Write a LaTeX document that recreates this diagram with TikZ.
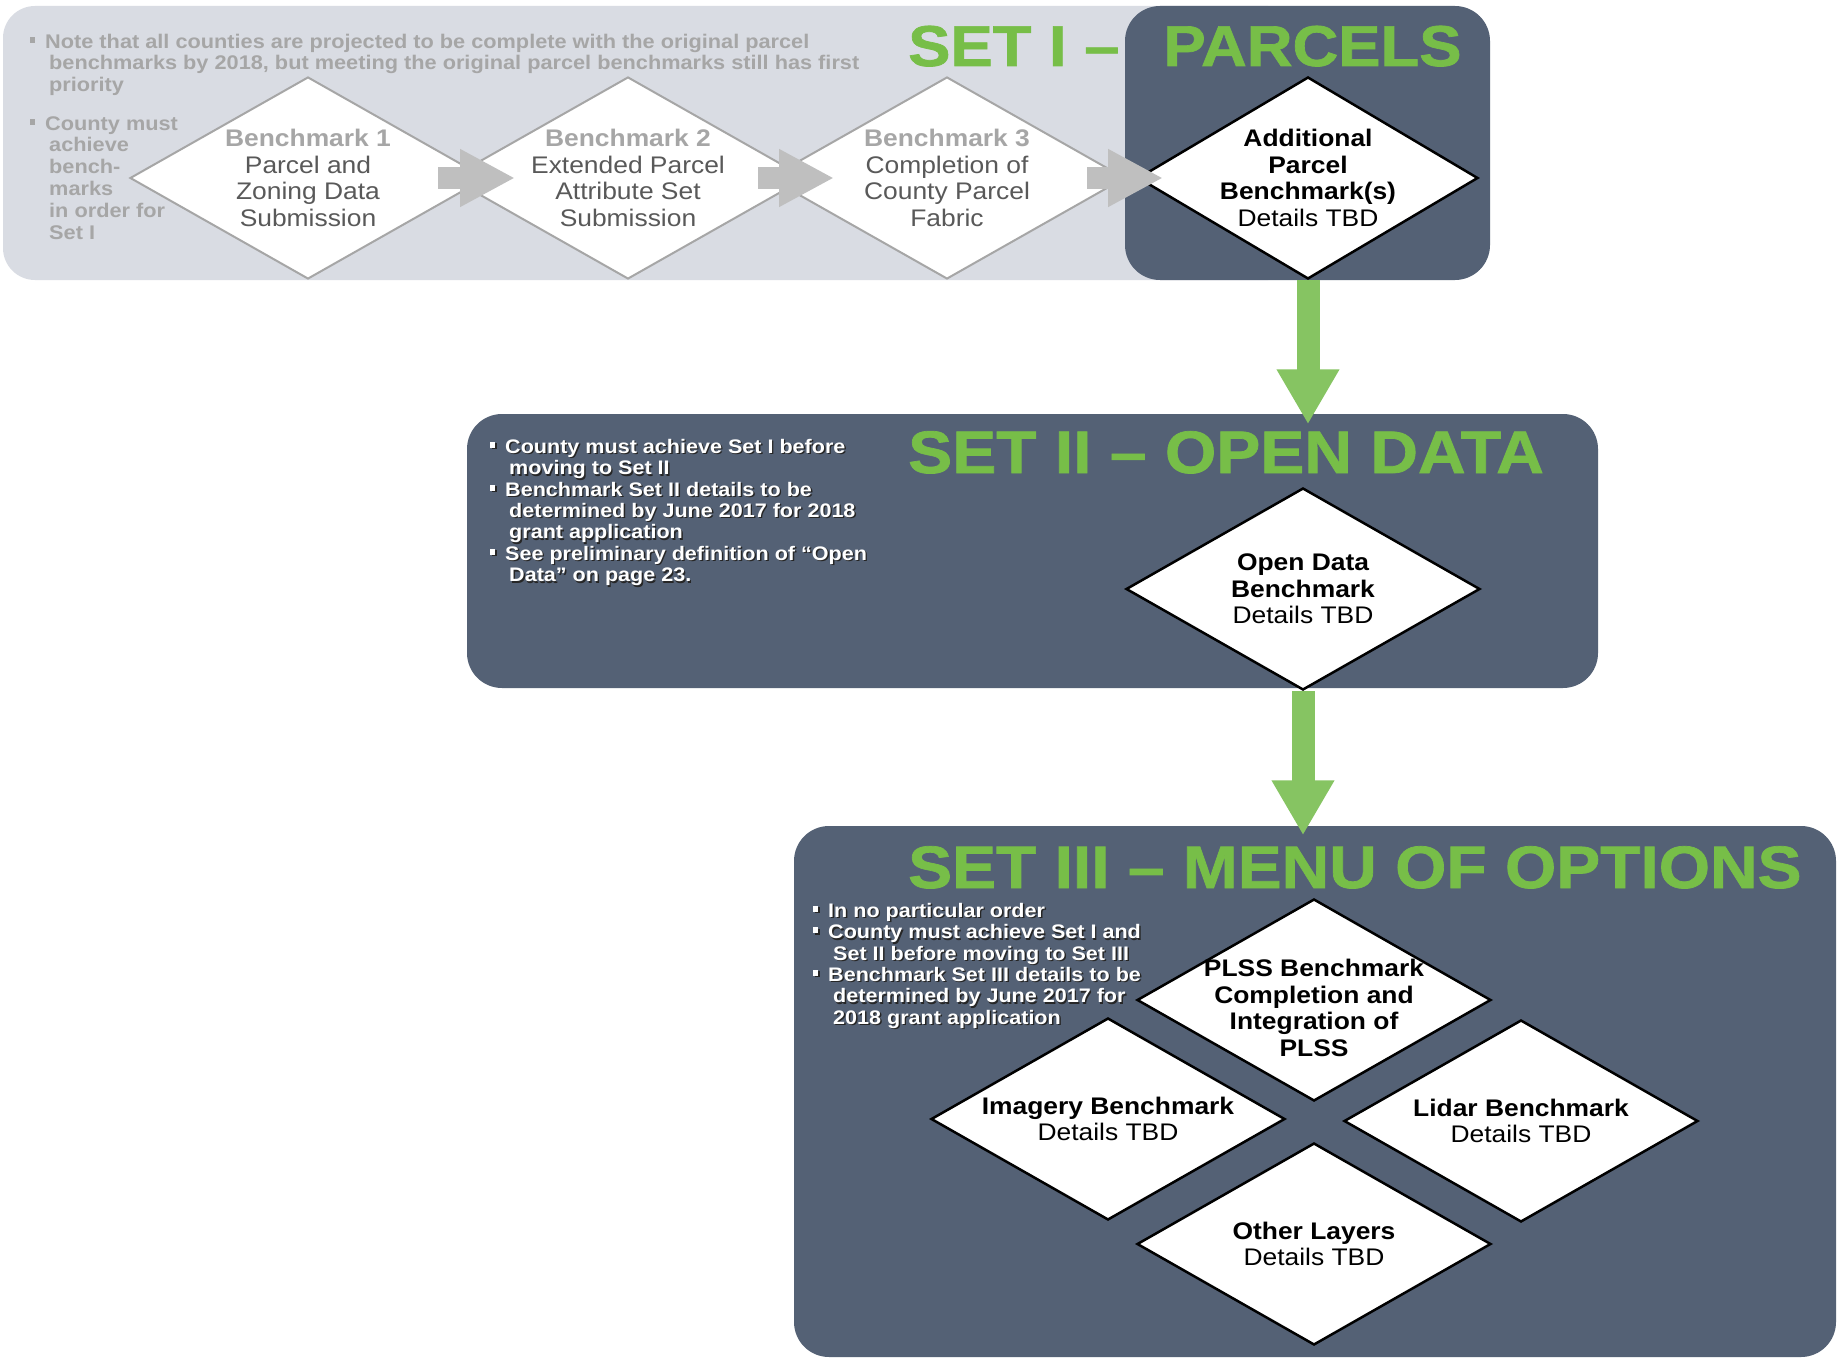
\documentclass[tikz,border=0pt]{standalone}
\usepackage{fontspec}
\setmainfont{Liberation Sans}[FakeStretch=1.1]
\newfontfamily\titlefam{Liberation Sans Bold}[FakeStretch=1.1,FakeBold=1.2]
\usetikzlibrary{shapes.geometric,arrows.meta,calc}
\definecolor{greybg}{HTML}{D9DCE3}
\definecolor{slate}{HTML}{546175}
\definecolor{titlegreen}{HTML}{77BE48}
\definecolor{arrowgreen}{HTML}{86C462}
\definecolor{arrowgrey}{HTML}{BFBFBF}
\definecolor{lightgreytext}{HTML}{A6A6A6}
\definecolor{darkgreytext}{HTML}{595959}
\newcommand\bulletsq{\rule[0.28em]{5pt}{6pt}}
\newcommand\topstrut{\rule{0pt}{15pt}}
\newcommand\shadowed[1]{\makebox[0pt][l]{\hspace{1.4pt}\raisebox{-1.4pt}{\textcolor{black!85}{#1}}}#1}
\newcommand\diafont{\fontsize{24}{26.5}\selectfont}
\newcommand\greyfont{\fontsize{19.75}{21.8}\selectfont\bfseries}
\newcommand\whitefont{\fontsize{19.6}{21.4}\selectfont\bfseries}
\begin{document}
\begin{tikzpicture}[x=1pt,y=-1pt,
  gdiam/.style={diamond, draw=lightgreytext, line width=2pt, fill=white, minimum width=356pt, minimum height=202pt, inner sep=0pt},
  kdiam/.style={diamond, draw=black, line width=2.5pt, fill=white, minimum width=354pt, minimum height=202pt, inner sep=0pt},
  dtext/.style={align=center, font=\diafont, inner sep=0pt},
  titletext/.style={anchor=base west, inner sep=0pt, text=titlegreen},
  greynote/.style={anchor=north west, align=left, inner sep=0pt, text=lightgreytext, font=\greyfont},
  whitenote/.style={anchor=north west, align=left, inner sep=0pt, text=white, font=\whitefont},
  garrow/.style={draw=arrowgreen, line width=23pt, -{Triangle[length=55pt,width=59pt]}},
  grarrow/.style={draw=arrowgrey, line width=22pt, -{Triangle[length=55pt,width=54pt]}}
]
\useasboundingbox (0,0) rectangle (1845,1359);
\fill[white] (0,0) rectangle (1845,1359);

% panels
\fill[greybg, rounded corners=32pt] (3,6) rectangle (1300,280);
\fill[slate, rounded corners=35pt] (1125,6) rectangle (1490,280);
\fill[slate, rounded corners=35pt] (467,414) rectangle (1598,688);
\fill[slate, rounded corners=35pt] (794,826) rectangle (1836,1357);

% Set I notes
\node[greynote] (note1) at (30,33) {\topstrut\bulletsq\hspace{10pt}Note that all counties are projected to be complete with the original parcel\\
\hspace*{19pt}benchmarks by 2018, but meeting the original parcel benchmarks still has first\\
\hspace*{19pt}priority};
\node[greynote] (note2) at (30,115) {\topstrut\bulletsq\hspace{10pt}County must\\
\hspace*{19pt}achieve\\
\hspace*{19pt}bench-\\
\hspace*{19pt}marks\\
\hspace*{19pt}in order for\\
\hspace*{19pt}Set I};

% Set I diamonds
\node[gdiam] (d1) at (308,178) {};
\node[gdiam] (d2) at (628,178) {};
\node[gdiam] (d3) at (947,178) {};
\node[kdiam, minimum width=340pt] (d4) at (1308,178) {};

\node[dtext, text=darkgreytext] (t1) at (d1.center) {{\bfseries\color{lightgreytext}Benchmark 1}\\Parcel and\\Zoning Data\\Submission};
\node[dtext, text=darkgreytext] (t2) at (d2.center) {{\bfseries\color{lightgreytext}Benchmark 2}\\Extended Parcel\\Attribute Set\\Submission};
\node[dtext, text=darkgreytext] (t3) at (d3.center) {{\bfseries\color{lightgreytext}Benchmark 3}\\Completion of\\County Parcel\\Fabric};
\node[dtext] (t4) at (d4.center) {\bfseries Additional\\\bfseries Parcel\\\bfseries Benchmark(s)\\Details TBD};

\draw[grarrow] ($(d1.center)+(130,0)$) -- ($(d2.center)+(-113,0)$);
\draw[grarrow] ($(d2.center)+(130,0)$) -- ($(d3.center)+(-113,0)$);
\draw[grarrow] ($(d3.center)+(140,0)$) -- ($(d4.center)+(-145,0)$);

\node[titletext] (title1) at (908,66) {\titlefam\fontsize{57.6}{60}\selectfont SET I –\hspace{44pt}PARCELS};

% Set II
\node[whitenote] (note3) at (490,438) {\topstrut\shadowed{\bulletsq\hspace{10pt}County must achieve Set I before}\\
\hspace*{19pt}\shadowed{moving to Set II}\\
\shadowed{\bulletsq\hspace{10pt}Benchmark Set II details to be}\\
\hspace*{19pt}\shadowed{determined by June 2017 for 2018}\\
\hspace*{19pt}\shadowed{grant application}\\
\shadowed{\bulletsq\hspace{10pt}See preliminary definition of “Open}\\
\hspace*{19pt}\shadowed{Data” on page 23.}};
\node[titletext] (title2) at (908,473) {\titlefam\fontsize{60}{60}\selectfont SET II – OPEN DATA};
\node[kdiam] (od) at (1303,589) {};
\node[dtext] (tod) at (od.center) {\bfseries Open Data\\\bfseries Benchmark\\Details TBD};

% Set III
\node[titletext] (title3) at (908,888) {\titlefam\fontsize{59.9}{60}\selectfont SET III – MENU OF OPTIONS};
\node[whitenote] (note4) at (813,902) {\topstrut\shadowed{\bulletsq\hspace{10pt}In no particular order}\\
\shadowed{\bulletsq\hspace{10pt}County must achieve Set I and}\\
\hspace*{20pt}\shadowed{Set II before moving to Set III}\\
\shadowed{\bulletsq\hspace{10pt}Benchmark Set III details to be}\\
\hspace*{20pt}\shadowed{determined by June 2017 for}\\
\hspace*{20pt}\shadowed{2018 grant application}};
\node[kdiam] (plss) at (1314,1000) {};
\node[kdiam] (img) at (1108,1119) {};
\node[kdiam] (lid) at (1521,1121) {};
\node[kdiam] (oth) at (1314,1244) {};
\node[dtext] (tplss) at ($(plss.center)+(0,8)$) {\bfseries PLSS Benchmark\\\bfseries Completion and\\\bfseries Integration of\\\bfseries PLSS};
\node[dtext] (timg) at (img.center) {\bfseries Imagery Benchmark\\Details TBD};
\node[dtext] (tlid) at (lid.center) {\bfseries Lidar Benchmark\\Details TBD};
\node[dtext] (toth) at (oth.center) {\bfseries Other Layers\\Details TBD};

% green arrows
\draw[garrow] (d4.south) -- ($(d4.south)+(0,144)$);
\draw[garrow] (od.south) -- ($(od.south)+(0,144)$);
\end{tikzpicture}
\end{document}
